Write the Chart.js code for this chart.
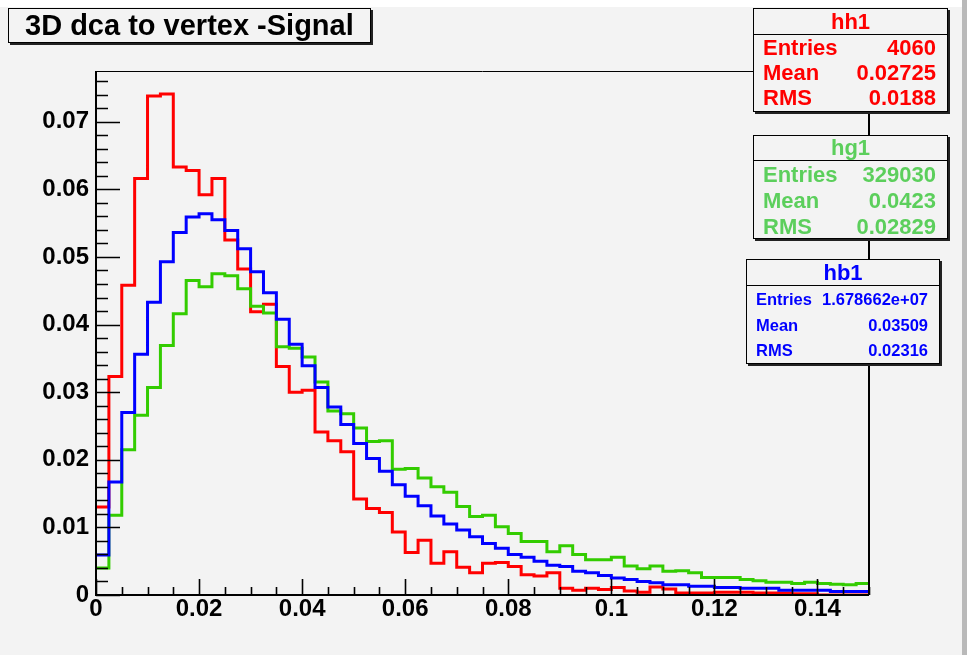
<!DOCTYPE html>
<html lang="en">
<head>
    <meta charset="UTF-8">
    <title>3D dca to vertex -Signal</title>
    <script src="https://cdn.jsdelivr.net/npm/chart.js"></script>
    <style>
        body {
            margin: 0;
            padding: 0;
            background-color: #f3f3f3;
        }

        .pad {
            position: relative;
            width: 967px;
            height: 655px;
            overflow: hidden;
            background-color: #f3f3f3;
            font-family: "Liberation Sans", Arial, Helvetica, sans-serif;
            font-weight: bold;
        }

        #dcaChart {
            position: absolute;
            left: 0;
            top: 0;
        }

        /* white band along the top and darker strip on the right edge of the pad */
        .top-band {
            position: absolute;
            left: 0;
            top: 0;
            width: 962px;
            height: 7px;
            background-color: #ffffff;
        }

        .edge {
            position: absolute;
            left: 962px;
            top: 0;
            width: 5px;
            height: 655px;
            background-color: #b9b9b9;
        }

        .title-box {
            position: absolute;
            left: 8px;
            top: 8px;
            width: 363px;
            height: 35px;
            box-sizing: border-box;
            border: 1px solid #000;
            box-shadow: 2px 2px 0 #222;
            background-color: #f3f3f3;
            font-size: 29px;
            line-height: 33px;
            padding-left: 16px;
            color: #000;
            white-space: nowrap;
        }

        .stats {
            position: absolute;
            box-sizing: border-box;
            border: 1px solid #000;
            box-shadow: 2px 2px 0 #222;
            background-color: #f3f3f3;
        }

        .stats .head {
            text-align: center;
            border-bottom: 1px solid #000;
        }

        .stats .row {
            display: flex;
            justify-content: space-between;
            padding: 0 11px 0 9px;
        }

        #statHH { left: 753px; top: 8px; width: 195px; height: 104px; color: #ff0000; font-size: 22px; }
        #statHH .head { height: 25px; line-height: 25px; }
        #statHH .row { height: 25px; line-height: 26px; }

        #statHG { left: 753px; top: 135px; width: 195px; height: 104px; color: #5ccf5c; font-size: 22px; }
        #statHG .head { height: 24px; line-height: 24px; }
        #statHG .row { height: 26px; line-height: 27px; }

        #statHB { left: 746px; top: 259px; width: 194px; height: 105px; color: #0000ff; font-size: 16.5px; }
        #statHB .head { height: 25px; line-height: 25px; font-size: 22px; }
        #statHB .row { height: 25.5px; line-height: 27px; }
    </style>
</head>
<body>

<div class="pad">
    <canvas id="dcaChart" width="967" height="655"></canvas>
    <div class="top-band"></div>
    <div class="edge"></div>

    <div class="title-box">3D dca to vertex -Signal</div>

    <div class="stats" id="statHH">
        <div class="head">hh1</div>
        <div class="row"><span>Entries</span><span>4060</span></div>
        <div class="row"><span>Mean</span><span>0.02725</span></div>
        <div class="row"><span>RMS</span><span>0.0188</span></div>
    </div>

    <div class="stats" id="statHG">
        <div class="head">hg1</div>
        <div class="row"><span>Entries</span><span>329030</span></div>
        <div class="row"><span>Mean</span><span>0.0423</span></div>
        <div class="row"><span>RMS</span><span>0.02829</span></div>
    </div>

    <div class="stats" id="statHB">
        <div class="head">hb1</div>
        <div class="row"><span>Entries</span><span>1.678662e+07</span></div>
        <div class="row"><span>Mean</span><span>0.03509</span></div>
        <div class="row"><span>RMS</span><span>0.02316</span></div>
    </div>
</div>

<script>
    // 60 bins of 0.0025 from 0 to 0.15, normalised bin contents
    const binLow = 0;
    const binWidth = 0.0025;

    const hh1 = [
        0.0130, 0.0323, 0.0458, 0.0616, 0.0738, 0.0741, 0.0633, 0.0628, 0.0592, 0.0616,
        0.0525, 0.0482, 0.0419, 0.0430, 0.0338, 0.0300, 0.0303, 0.0241, 0.0228, 0.0212,
        0.0142, 0.0128, 0.0122, 0.0093, 0.0063, 0.0081, 0.0047, 0.0064, 0.0041, 0.0033,
        0.0047, 0.0048, 0.0042, 0.0030, 0.0028, 0.0033, 0.0010, 0.0007, 0.0010, 0.0008,
        0.0011, 0.0006, 0.0004, 0.0012, 0.0009, 0.0003, 0.0003, 0.0003, 0.0004, 0.0004,
        0.0004, 0.0003, 0.0003, 0.0003, 0.0002, 0.0002, 0.0000, 0.0000, 0.0000, 0.0000
    ];

    const hg1 = [
        0.0040, 0.0118, 0.0215, 0.0266, 0.0307, 0.0369, 0.0416, 0.0465, 0.0456, 0.0475,
        0.0472, 0.0453, 0.0427, 0.0417, 0.0367, 0.0365, 0.0352, 0.0315, 0.0272, 0.0268,
        0.0247, 0.0227, 0.0228, 0.0186, 0.0187, 0.0173, 0.0160, 0.0152, 0.0131, 0.0116,
        0.0118, 0.0101, 0.0091, 0.0079, 0.0079, 0.0064, 0.0073, 0.0060, 0.0052, 0.0052,
        0.0056, 0.0043, 0.0039, 0.0043, 0.0035, 0.0036, 0.0033, 0.0026, 0.0026, 0.0026,
        0.0023, 0.0021, 0.0019, 0.0019, 0.0017, 0.0019, 0.0017, 0.0016, 0.0015, 0.0017
    ];

    const hb1 = [
        0.0059, 0.0167, 0.0270, 0.0356, 0.0433, 0.0493, 0.0536, 0.0559, 0.0564, 0.0555,
        0.0539, 0.0512, 0.0478, 0.0447, 0.0408, 0.0371, 0.0339, 0.0307, 0.0278, 0.0252,
        0.0224, 0.0202, 0.0183, 0.0163, 0.0146, 0.0132, 0.0117, 0.0105, 0.0096, 0.0086,
        0.0076, 0.0069, 0.0060, 0.0056, 0.0050, 0.0044, 0.0042, 0.0035, 0.0033, 0.0029,
        0.0025, 0.0023, 0.0020, 0.0018, 0.0015, 0.0015, 0.0013, 0.0013, 0.0011, 0.0011,
        0.0010, 0.0010, 0.0010, 0.0007, 0.0007, 0.0007, 0.0007, 0.0005, 0.0005, 0.0005
    ];

    const xTickValues = [0, 0.02, 0.04, 0.06, 0.08, 0.1, 0.12, 0.14];
    const xTickLabels = ['0', '0.02', '0.04', '0.06', '0.08', '0.1', '0.12', '0.14'];
    const yTickValues = [0, 0.01, 0.02, 0.03, 0.04, 0.05, 0.06, 0.07];
    const yTickLabels = ['0', '0.01', '0.02', '0.03', '0.04', '0.05', '0.06', '0.07'];

    const xMax = 0.15;
    const yMax = 0.0775;
    const xMinorStep = 0.005;   // 4 divisions per labelled tick
    const yMinorStep = 0.002;   // 5 divisions per labelled tick

    // step outline: one point per lower bin edge, plus the upper edge of the last bin
    function histPoints(values) {
        const pts = values.map((v, i) => ({ x: binLow + i * binWidth, y: v }));
        pts.push({ x: binLow + values.length * binWidth, y: values[values.length - 1] });
        return pts;
    }

    const tickFont = { family: 'Liberation Sans', size: 24, weight: 'bold' };

    // frame plus inward ticks, ROOT style
    const rootFrame = {
        id: 'rootFrame',
        afterDatasetsDraw(chart) {
            const { ctx, chartArea: a, scales: { x, y } } = chart;
            ctx.save();
            ctx.strokeStyle = '#000';

            ctx.lineWidth = 1;
            ctx.beginPath();
            ctx.moveTo(a.left, a.top + 0.5);
            ctx.lineTo(a.right, a.top + 0.5);
            ctx.stroke();

            ctx.lineWidth = 2;
            ctx.beginPath();
            ctx.moveTo(a.right, a.top);
            ctx.lineTo(a.right, a.bottom);
            ctx.moveTo(a.left, a.top);
            ctx.lineTo(a.left, a.bottom);
            ctx.lineTo(a.right, a.bottom);
            ctx.stroke();

            ctx.lineWidth = 1.6;
            ctx.beginPath();
            const nY = Math.floor(yMax / yMinorStep + 1e-6);
            for (let k = 0; k <= nY; k++) {
                const py = Math.round(y.getPixelForValue(k * yMinorStep)) + 0.5;
                const len = k % 5 === 0 ? 24 : 12;
                ctx.moveTo(a.left, py);
                ctx.lineTo(a.left + len, py);
            }
            const nX = Math.round(xMax / xMinorStep);
            for (let k = 0; k <= nX; k++) {
                const px = Math.round(x.getPixelForValue(k * xMinorStep)) + 0.5;
                const len = k % 4 === 0 ? 16 : 8;
                ctx.moveTo(px, a.bottom);
                ctx.lineTo(px, a.bottom - len);
            }
            ctx.stroke();
            ctx.restore();
        }
    };

    const ctx = document.getElementById('dcaChart').getContext('2d');
    const dcaChart = new Chart(ctx, {
        type: 'line',
        data: {
            datasets: [
                { label: 'hh1', data: histPoints(hh1), borderColor: '#ff0000', order: 3 },
                { label: 'hg1', data: histPoints(hg1), borderColor: '#33cc00', order: 2 },
                { label: 'hb1', data: histPoints(hb1), borderColor: '#0000ff', order: 1 }
            ]
        },
        options: {
            responsive: false,
            animation: false,
            layout: { padding: { left: 0, top: 71, right: 98, bottom: 0 } },
            datasets: {
                // horizontal across each bin, then vertical at its upper edge
                line: { stepped: 'before', borderWidth: 3, fill: false, pointRadius: 0, borderJoinStyle: 'miter' }
            },
            plugins: {
                legend: { display: false },
                tooltip: { enabled: false }
            },
            scales: {
                x: {
                    type: 'linear',
                    min: 0,
                    max: xMax,
                    grid: { display: false, drawTicks: false },
                    border: { display: false },
                    afterBuildTicks: s => { s.ticks = xTickValues.map(v => ({ value: v })); },
                    afterFit: s => { s.height = 60; },
                    ticks: {
                        callback: (v, i) => xTickLabels[i],
                        font: tickFont,
                        color: '#000',
                        padding: 0,
                        maxRotation: 0,
                        autoSkip: false
                    }
                },
                y: {
                    type: 'linear',
                    min: 0,
                    max: yMax,
                    grid: { display: false, drawTicks: false },
                    border: { display: false },
                    afterBuildTicks: s => { s.ticks = yTickValues.map(v => ({ value: v })); },
                    afterFit: s => { s.width = 96; },
                    ticks: {
                        callback: (v, i) => yTickLabels[i],
                        font: tickFont,
                        color: '#000',
                        padding: 7,
                        autoSkip: false
                    }
                }
            }
        },
        plugins: [rootFrame]
    });
</script>
</body>
</html>
